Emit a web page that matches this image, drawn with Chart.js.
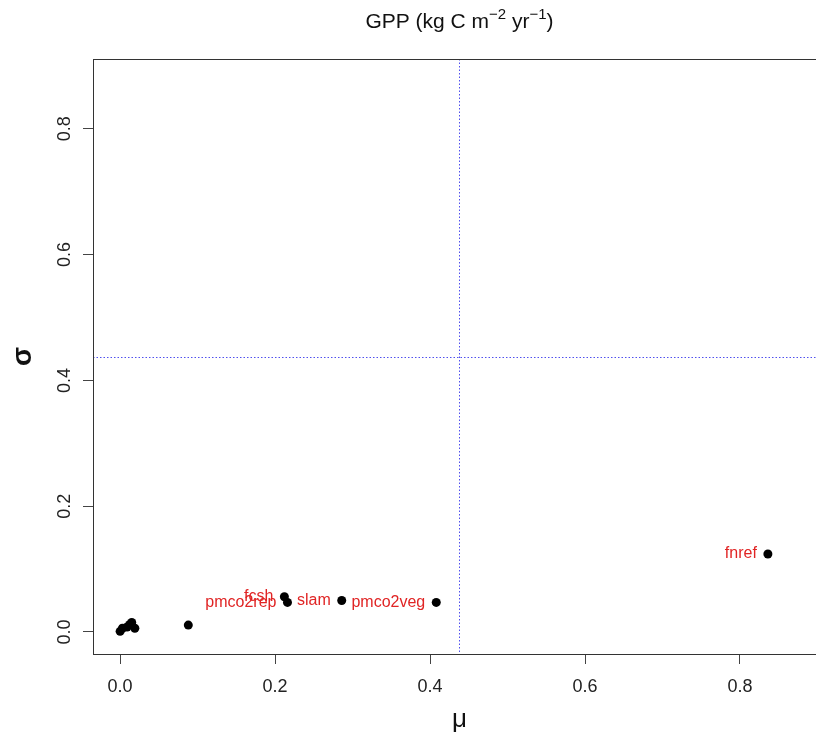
<!DOCTYPE html>
<html><head><meta charset="utf-8">
<script src="https://cdn.jsdelivr.net/npm/chart.js@4/dist/chart.umd.min.js"></script>
<style>
html,body{margin:0;padding:0;overflow:hidden;background:#fff;width:816px;height:733px}
#wrap{width:840px;height:733px}
</style>
</head><body><div id="wrap"><canvas id="c" width="840" height="733"></canvas></div>
<script>
// ---- data ----
const names = ['', '', '', '', '', '', '', 'fcsh', 'pmco2rep', 'slam', 'pmco2veg', 'fnref'];
const mu    = [0.000, 0.003, 0.009, 0.015, 0.019, 0.0125, 0.088, 0.212, 0.216, 0.286, 0.408, 0.836];
const sigma = [0.001, 0.006, 0.008, 0.015, 0.006, 0.012, 0.011, 0.056, 0.047, 0.050, 0.047, 0.124];
const xTicks = [0.0, 0.2, 0.4, 0.6, 0.8];
const yTicks = [0.0, 0.2, 0.4, 0.6, 0.8];
const axisLimits = [-0.035, 0.911];
const refMu = [0.438];
const refSigma = [0.438];
const titleParts = [['GPP (kg C m', false], ['\u22122', true], [' yr', false], ['\u22121', true], [')', false]];
const xTitle = '\u03bc';
const yTitle = '\u03c3';

const FONT = "'Liberation Sans', Arial, Helvetica, sans-serif";

const points = mu.map((m, i) => ({x: m, y: sigma[i]}));

const framePlugin = {
  id: 'frame',
  beforeDatasetsDraw(chart) {
    const {ctx, chartArea: a, scales: {x, y}} = chart;
    ctx.save();
    ctx.beginPath();
    ctx.rect(a.left, a.top, a.right - a.left, a.bottom - a.top);
    ctx.clip();
    ctx.strokeStyle = '#5050ee';
    ctx.lineWidth = 1;
    ctx.setLineDash([1.5, 2]);
    refMu.forEach(v => {
      const px = Math.round(x.getPixelForValue(v)) + 0.5;
      ctx.beginPath(); ctx.moveTo(px, a.top); ctx.lineTo(px, a.bottom); ctx.stroke();
    });
    refSigma.forEach(v => {
      const py = Math.round(y.getPixelForValue(v)) + 0.5;
      ctx.beginPath(); ctx.moveTo(a.left, py); ctx.lineTo(a.right, py); ctx.stroke();
    });
    ctx.restore();
    ctx.save();
    ctx.strokeStyle = '#333';
    ctx.lineWidth = 1;
    ctx.strokeRect(Math.round(a.left) + 0.5, Math.round(a.top) + 0.5,
                   Math.round(a.right - a.left), Math.round(a.bottom - a.top));
    ctx.restore();
  },
  afterDatasetsDraw(chart) {
    const {ctx, scales: {x, y}} = chart;
    ctx.save();
    ctx.fillStyle = '#e02424';
    ctx.font = '16px ' + FONT;
    ctx.textAlign = 'right';
    ctx.textBaseline = 'middle';
    names.forEach((n, i) => {
      if (!n) return;
      ctx.fillText(n, x.getPixelForValue(mu[i]) - 11, y.getPixelForValue(sigma[i]));
    });
    ctx.restore();
  },
  afterDraw(chart) {
    const {ctx, chartArea: a} = chart;
    ctx.save();
    ctx.fillStyle = '#111';
    ctx.textBaseline = 'alphabetic';
    ctx.textAlign = 'left';
    const big = '21px ' + FONT, small = '15px ' + FONT;
    let total = 0;
    titleParts.forEach(([t, s]) => { ctx.font = s ? small : big; total += ctx.measureText(t).width; });
    let cx = (a.left + a.right) / 2 - total / 2;
    titleParts.forEach(([t, s]) => {
      ctx.font = s ? small : big;
      ctx.fillText(t, cx, s ? 19 : 28);
      cx += ctx.measureText(t).width;
    });
    ctx.restore();
  }
};

new Chart(document.getElementById('c'), {
  type: 'scatter',
  data: {
    datasets: [{
      data: points,
      backgroundColor: '#000',
      borderWidth: 0,
      pointRadius: 4.5,
      pointHoverRadius: 4.5
    }]
  },
  options: {
    responsive: false,
    animation: false,
    devicePixelRatio: 1,
    layout: {padding: {top: 59, right: 14, left: 0, bottom: 0}},
    plugins: {legend: {display: false}, tooltip: {enabled: false}},
    scales: {
      x: {
        type: 'linear',
        min: axisLimits[0], max: axisLimits[1],
        afterBuildTicks: s => { s.ticks = xTicks.map(v => ({value: v})); },
        afterFit: s => { s.height = 79; },
        border: {display: false},
        grid: {drawOnChartArea: false, drawTicks: true, tickLength: 10, color: '#444'},
        ticks: {
          padding: 12, color: '#222', maxRotation: 0, autoSkip: false,
          font: {size: 18, family: FONT},
          callback: v => Number(v).toFixed(1)
        },
        title: {display: true, text: xTitle, color: '#111', font: {size: 26, family: FONT, lineHeight: 1.0}, padding: {top: 0, bottom: 0}}
      },
      y: {
        type: 'linear',
        min: axisLimits[0], max: axisLimits[1],
        afterBuildTicks: s => { s.ticks = yTicks.map(v => ({value: v})); },
        afterFit: s => { s.width = 93; },
        border: {display: false},
        grid: {drawOnChartArea: false, drawTicks: true, tickLength: 10, color: '#444'},
        ticks: {
          padding: 5, color: '#222', minRotation: 90, maxRotation: 90, crossAlign: 'center', autoSkip: false,
          font: {size: 18, family: FONT},
          callback: v => Number(v).toFixed(1)
        },
        title: {display: true, text: yTitle, color: '#111', font: {size: 28, family: FONT, weight: 'bold'}, padding: {top: 6, bottom: 0}}
      }
    }
  },
  plugins: [framePlugin]
});
</script>
</body></html>
